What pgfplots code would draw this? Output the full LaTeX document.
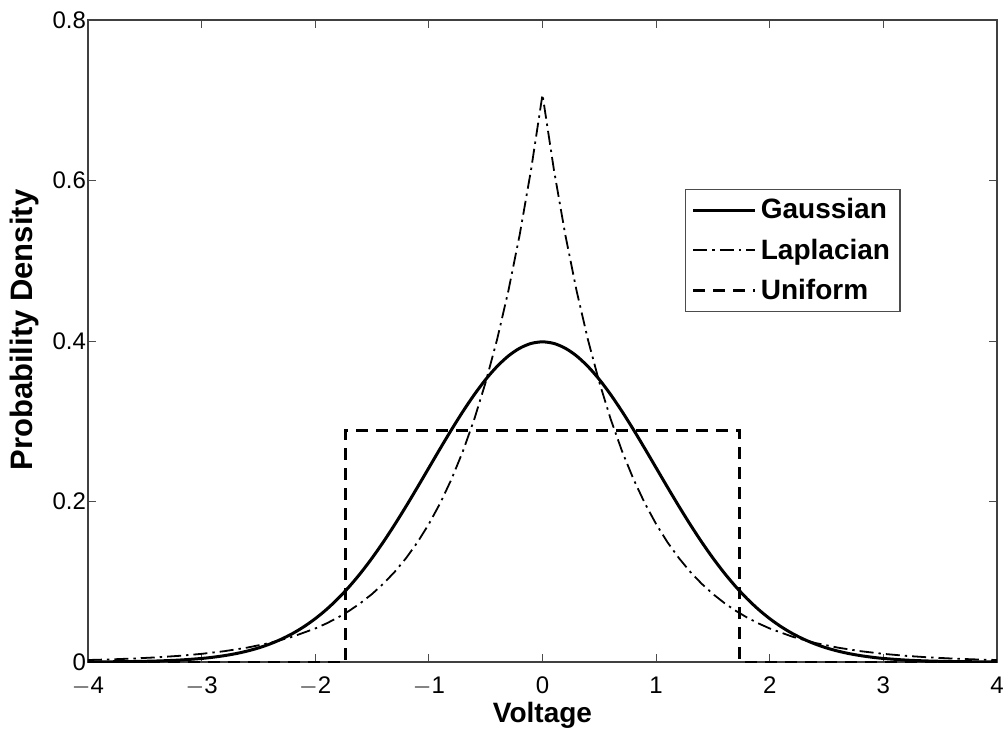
\documentclass[border=0pt]{standalone}
\usepackage{fontspec}
\setmainfont{Liberation Sans}
\usepackage{pgfplots}
\pgfplotsset{compat=1.18}
\begin{document}
\begin{tikzpicture}
\path[use as bounding box] (-44pt,-34pt) rectangle (457.5pt,331pt);
\begin{axis}[
  at={(0,0)}, anchor=south west,
  scale only axis,
  width=454.5pt, height=321pt,
  xmin=-4, xmax=4, ymin=0, ymax=0.8,
  xtick={-4,-3,...,4}, ytick={0,0.2,0.4,0.6,0.8},
  yticklabels={0,0.2,0.4,0.6,0.8},
  xticklabels={$-$4,$-$3,$-$2,$-$1,0,1,2,3,4},
  /pgf/number format/assume math mode=true,
  tick align=inside,
  major tick length=4pt,
  tick style={line width=0.5pt, black!70},
  axis line style={line width=0.8pt, black!75},
  ticklabel style={font=\fontsize{12}{14}\selectfont},
  xticklabel style={yshift=-4pt},
  yticklabel style={xshift=2.5pt},
  xlabel={\bfseries Voltage},
  ylabel={\bfseries Probability Density},
  xlabel style={font=\fontsize{14}{16}\selectfont, at={(axis description cs:0.5,-0.095)}, anchor=base},
  ylabel style={font=\fontsize{15.5}{17}\selectfont, at={(axis description cs:-0.0616,0.517)}, anchor=base},
  legend style={at={(0.894,0.737)}, anchor=north east, draw=black!70, line width=0.6pt,
    font=\bfseries\fontsize{14}{16}\selectfont, row sep=4.5pt, inner xsep=3pt, inner ysep=2.5pt,
    nodes={inner xsep=2pt}},
  legend cell align=left,
  legend image code/.code={\draw[#1] (0pt,0pt) -- (31pt,0pt);},
]
\addplot[black, line width=1.5pt, smooth] coordinates {
(-4.0,0.00013)(-3.8,0.00029)(-3.6,0.00061)(-3.4,0.00123)(-3.2,0.00238)(-3.0,0.00443)
(-2.9,0.00595)(-2.8,0.00792)(-2.7,0.01042)(-2.6,0.01358)(-2.5,0.01753)(-2.4,0.02239)
(-2.3,0.02833)(-2.2,0.03547)(-2.1,0.04398)(-2.0,0.05399)(-1.9,0.06562)(-1.8,0.07895)
(-1.7,0.09405)(-1.6,0.11092)(-1.5,0.12952)(-1.4,0.14973)(-1.3,0.17137)(-1.2,0.19419)
(-1.1,0.21785)(-1.0,0.24197)(-0.9,0.26609)(-0.8,0.28969)(-0.7,0.31225)(-0.6,0.33322)
(-0.5,0.35207)(-0.4,0.36827)(-0.3,0.38139)(-0.2,0.39104)(-0.1,0.39695)(0.0,0.39894)
(0.1,0.39695)(0.2,0.39104)(0.3,0.38139)(0.4,0.36827)(0.5,0.35207)(0.6,0.33322)
(0.7,0.31225)(0.8,0.28969)(0.9,0.26609)(1.0,0.24197)(1.1,0.21785)(1.2,0.19419)
(1.3,0.17137)(1.4,0.14973)(1.5,0.12952)(1.6,0.11092)(1.7,0.09405)(1.8,0.07895)
(1.9,0.06562)(2.0,0.05399)(2.1,0.04398)(2.2,0.03547)(2.3,0.02833)(2.4,0.02239)
(2.5,0.01753)(2.6,0.01358)(2.7,0.01042)(2.8,0.00792)(2.9,0.00595)(3.0,0.00443)
(3.2,0.00238)(3.4,0.00123)(3.6,0.00061)(3.8,0.00029)(4.0,0.00013)
};
\addlegendentry{Gaussian}
\addplot[black, line width=0.9pt, dash pattern=on 7pt off 2.5pt on 1.2pt off 2.5pt] coordinates {
(-4.0,0.00247)(-3.8,0.00328)(-3.6,0.00435)(-3.4,0.00577)(-3.2,0.00766)(-3.0,0.01016)
(-2.8,0.01348)(-2.6,0.01789)(-2.4,0.02374)(-2.2,0.03150)(-2.0,0.04179)(-1.9,0.04814)
(-1.8,0.05546)(-1.7,0.06388)(-1.6,0.07358)(-1.5,0.08476)(-1.4,0.09764)(-1.3,0.11247)
(-1.2,0.12956)(-1.1,0.14924)(-1.0,0.17191)(-0.9,0.19802)(-0.8,0.22811)(-0.7,0.26276)
(-0.6,0.30268)(-0.5,0.34866)(-0.4,0.40162)(-0.3,0.46263)(-0.2,0.53291)(-0.1,0.61386)
(0.0,0.70711)
(0.1,0.61386)(0.2,0.53291)(0.3,0.46263)(0.4,0.40162)(0.5,0.34866)(0.6,0.30268)
(0.7,0.26276)(0.8,0.22811)(0.9,0.19802)(1.0,0.17191)(1.1,0.14924)(1.2,0.12956)
(1.3,0.11247)(1.4,0.09764)(1.5,0.08476)(1.6,0.07358)(1.7,0.06388)(1.8,0.05546)
(1.9,0.04814)(2.0,0.04179)(2.2,0.03150)(2.4,0.02374)(2.6,0.01789)(2.8,0.01348)
(3.0,0.01016)(3.2,0.00766)(3.4,0.00577)(3.6,0.00435)(3.8,0.00328)(4.0,0.00247)
};
\addlegendentry{Laplacian}
\addplot[black, line width=1.5pt, dash pattern=on 6pt off 4pt] coordinates {
(-4,0)(-1.732,0)(-1.732,0.2887)(1.732,0.2887)(1.732,0)(4,0)
};
\addlegendentry{Uniform}
\end{axis}
\end{tikzpicture}
\end{document}
